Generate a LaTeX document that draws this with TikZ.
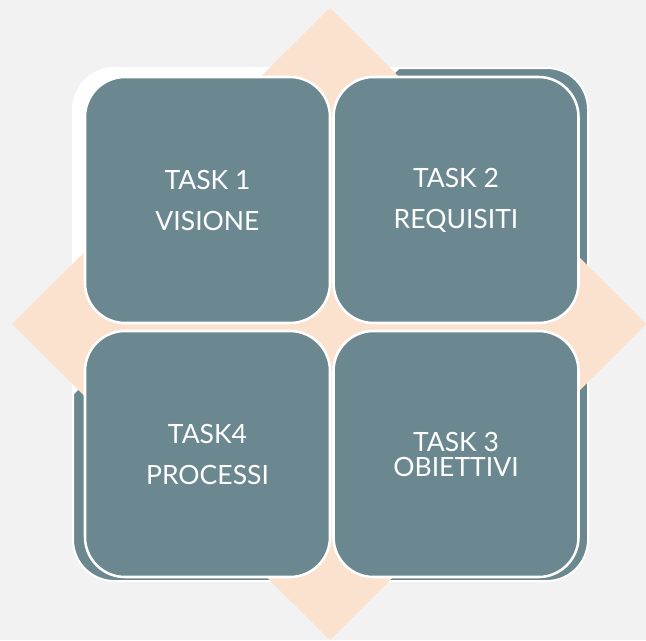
\documentclass[tikz,border=0pt]{standalone}
\usepackage{fontspec}
\setmainfont{Lato}
\usetikzlibrary{positioning}
\definecolor{bgray}{HTML}{F2F2F2}
\definecolor{peach}{HTML}{FBE2CE}
\definecolor{slate}{HTML}{6B8890}
\tikzstyle{tile}=[rectangle,rounded corners=30pt,fill=slate,draw=white,line width=1.9pt,minimum width=183.75pt,minimum height=184.5pt,inner sep=0pt,text=white,align=center,font=\fontsize{19.9}{30.75}\selectfont]
\tikzstyle{frame}=[rounded corners=31pt,fill=slate,draw=white,line width=1.5pt]

\begin{document}
\begin{tikzpicture}[x=0.75pt,y=-0.75pt]
\fill[bgray] (0,0) rectangle (646,640);
\useasboundingbox (0,0) rectangle (646,640);
% back panel, white in the top left corner
\draw[frame] (73,68) rectangle (588,581);
\begin{scope}
  \clip[rounded corners=31pt] (73,68) rectangle (588,581);
  \fill[white] (73,68) -- (400,68) -- (73,395) -- cycle;
\end{scope}
% diamond
\fill[peach] (330,8) -- (646,324) -- (330,640) -- (12,324) -- cycle;
% tiles
\foreach \n/\x/\y/\t in {task1/207.5/200/{TASK 1\\VISIONE}, task2/456/200/{TASK 2\\REQUISITI},
    task4/207.5/454/{TASK4\\PROCESSI}, task3/456/454/{TASK 3\\[-12pt]OBIETTIVI}}
  \node[tile] (\n) at (\x,\y) {\t};
\end{tikzpicture}
\end{document}
